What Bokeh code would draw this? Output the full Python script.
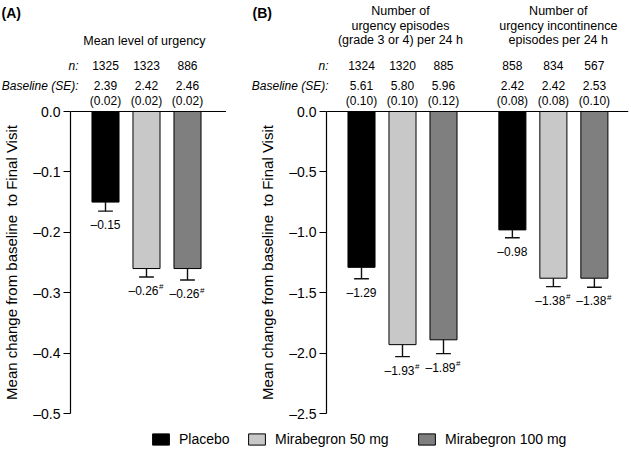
from bokeh.plotting import figure
from bokeh.models import (Range1d, FixedTicker, CustomJSTickFormatter,
                          ColumnDataSource, Legend, LegendItem, Span)
from bokeh.layouts import column, row
from bokeh.core.properties import value
from bokeh.embed import file_html
from bokeh.resources import INLINE

# ---------------- data ----------------
treatments = ["Placebo", "Mirabegron 50 mg", "Mirabegron 100 mg"]

a_title = ["Mean level of urgency"]
a_n = [1325, 1323, 886]
a_base = [2.39, 2.42, 2.46]
a_base_se = [0.02, 0.02, 0.02]
a_change = [-0.15, -0.26, -0.26]
a_err = [0.015, 0.014, 0.019]
a_sig = [False, True, True]

b_titles = [["Number of", "urgency episodes", "(grade 3 or 4) per 24 h"],
            ["Number of", "urgency incontinence", "episodes per 24 h"]]
b_n = [[1324, 1320, 885], [858, 834, 567]]
b_base = [[5.61, 5.80, 5.96], [2.42, 2.42, 2.53]]
b_base_se = [[0.10, 0.10, 0.12], [0.08, 0.08, 0.10]]
b_change = [[-1.29, -1.93, -1.89], [-0.98, -1.38, -1.38]]
b_err = [[0.094, 0.099, 0.114], [0.065, 0.070, 0.075]]
b_sig = [[False, True, True], [False, True, True]]

a_ticks = [0.0, -0.1, -0.2, -0.3, -0.4, -0.5]
b_ticks = [0.0, -0.5, -1.0, -1.5, -2.0, -2.5]
y_label = "Mean change from baseline\u00a0 to Final Visit"
row_labels = ["n:", "Baseline (SE):"]

# ---------------- style / layout ----------------
FONT = "Liberation Sans"
COLORS = ["#000000", "#c8c8c8", "#7f7f7f"]
PX = 41.0            # pixels per bar slot
GROUP_STEP = 3.68    # slot distance between groups
BAR_W = 0.66
CAP_HALF = 0.18
HEAD_H = 94          # header strip height
PAD = 17             # frame pixels above the zero line and below the axis end
AXIS_PX = 302        # pixels of the y axis
PANEL_H = PAD + AXIS_PX + PAD
LEG_H = 452 - HEAD_H - PANEL_H
LEG_X = [150, 246, 416]
DASH = "\u2013"


def fmt(v):
    return (DASH if v < 0 else "") + f"{abs(v):.2f}"


def header(width, left, first_gap, titles, ns, bases, letter, letter_x,
           rowlab_x, title_y):
    x0 = -first_gap / PX - left / PX
    x1 = -first_gap / PX + (width - left) / PX
    h = figure(width=width, height=HEAD_H, x_range=Range1d(x0, x1),
               y_range=Range1d(HEAD_H, 0), output_backend="svg",
               toolbar_location=None, x_axis_location=None,
               y_axis_location=None, min_border=0)
    h.outline_line_color = None
    h.grid.visible = False
    hx, hn, hb = [], [], []
    for g in range(len(ns)):
        for i in range(len(ns[g])):
            hx.append(i + g * GROUP_STEP)
            hn.append(str(ns[g][i]))
            hb.append(f"{bases[g][i]:.2f}")
    m = len(hx)
    h.text(x=hx * 2, y=[65] * m + [85] * m, text=hn + hb,
           text_align="center", text_baseline="middle",
           text_font=value(FONT), text_font_size=value("12px"),
           text_color="black")
    h.text(x=[rowlab_x] * 2, y=[65, 85], text=row_labels,
           text_align="right", text_baseline="middle",
           text_font=value(FONT), text_font_size=value("12px"),
           text_font_style="italic", text_color="black")
    tx, ty, tt = [], [], []
    for g, lines in enumerate(titles):
        for j, line in enumerate(lines):
            tx.append(1 + g * GROUP_STEP + (0.12 if g == 1 else -0.05))
            ty.append(title_y[j])
            tt.append(line)
    h.text(x=tx, y=ty, text=tt, text_align="center", text_baseline="middle",
           text_font=value(FONT), text_font_size=value("12.5px"),
           text_color="black")
    h.text(x=[letter_x], y=[12], text=[letter], text_align="left",
           text_baseline="middle", text_font=value(FONT),
           text_font_size=value("14px"), text_font_style="bold",
           text_color="black")
    return h


def panel(width, left, right, first_gap, ymin, ticks, bses, changes, errs,
          sigs, standoff):
    frame_w = width - left - right
    x0 = -first_gap / PX
    x1 = x0 + frame_w / PX
    k = (0 - ymin) / AXIS_PX
    p = figure(width=width, height=PANEL_H, x_range=Range1d(x0, x1),
               y_range=Range1d(ymin - PAD * k, PAD * k), output_backend="svg",
               toolbar_location=None, x_axis_location=None, min_border=0,
               min_border_left=left, min_border_right=right,
               min_border_top=0, min_border_bottom=0)
    p.outline_line_color = None
    p.grid.visible = False

    ya = p.yaxis[0]
    ya.bounds = (ymin, 0)
    ya.ticker = FixedTicker(ticks=ticks)
    ya.formatter = CustomJSTickFormatter(
        code="return (tick < -1e-9 ? '\u2013' : '') + Math.abs(tick).toFixed(1);")
    ya.minor_tick_line_color = None
    ya.major_tick_out = 7
    ya.major_tick_in = 0
    ya.major_tick_line_width = 1.2
    ya.axis_line_width = 1.2
    ya.axis_line_color = "black"
    ya.major_tick_line_color = "black"
    ya.major_label_standoff = 3
    ya.major_label_text_font = FONT
    ya.major_label_text_font_size = "14px"
    ya.major_label_text_color = "black"
    ya.axis_label = y_label
    ya.axis_label_text_font = FONT
    ya.axis_label_text_font_size = "15px"
    ya.axis_label_text_font_style = "normal"
    ya.axis_label_text_color = "black"
    ya.axis_label_standoff = standoff

    xs, tops, lows, cols, labs, xo, ses = [], [], [], [], [], [], []
    sx, sy = [], []
    for g in range(len(changes)):
        for i in range(len(changes[g])):
            x = i + g * GROUP_STEP
            xs.append(x)
            tops.append(changes[g][i])
            low = changes[g][i] - errs[g][i]
            lows.append(low)
            cols.append(COLORS[i])
            labs.append(fmt(changes[g][i]))
            ses.append(f"({bses[g][i]:.2f})")
            xo.append(-3 if sigs[g][i] else 0)
            if sigs[g][i]:
                sx.append(x)
                sy.append(low)
    src = ColumnDataSource(dict(x=xs, change=tops, low=lows, color=cols,
                                lab=labs, xo=xo, se=ses,
                                sey=[11 * k] * len(xs),
                                cl=[x - CAP_HALF for x in xs],
                                cr=[x + CAP_HALF for x in xs]))
    # baseline SE row (sits just above the zero line)
    p.text(x="x", y="sey", text="se", text_align="center",
           text_baseline="middle", text_font=value(FONT),
           text_font_size=value("12px"), text_color="black", source=src)
    p.vbar(x="x", width=BAR_W, top=0, bottom="change", fill_color="color",
           line_color="black", line_width=1, source=src)
    p.add_layout(Span(location=0, dimension="width", line_color="black",
                      line_width=1.2))
    p.segment(x0="x", y0="change", x1="x", y1="low", line_color="#111111",
              line_width=1.4, source=src)
    p.segment(x0="cl", y0="low", x1="cr", y1="low", line_color="#111111",
              line_width=1.4, source=src)
    p.text(x="x", y="low", text="lab", x_offset="xo", y_offset=14,
           text_align="center", text_baseline="middle",
           text_font=value(FONT), text_font_size=value("12px"),
           text_color="black", source=src)
    p.text(x=sx, y=sy, text=["#"] * len(sx), x_offset=12.5, y_offset=10,
           text_align="left", text_baseline="middle",
           text_font=value(FONT), text_font_size=value("8px"),
           text_color="black")
    return p


A_W, A_L, A_R, A_GAP = 226, 70, 0, 35
B_W, B_L, B_R, B_GAP = 405, 100, 3, 35

hA = header(A_W, A_L, A_GAP, [a_title], [a_n], [a_base],
            "(A)", -104 / PX, -27 / PX, [40])
hB = header(B_W, B_L, B_GAP, b_titles, b_n, b_base,
            "(B)", -109 / PX, -33 / PX, [10, 25, 39])
pA = panel(A_W, A_L, A_R, A_GAP, -0.5, a_ticks, [a_base_se], [a_change],
           [a_err], [a_sig], 10)
pB = panel(B_W, B_L, B_R, B_GAP, -2.5, b_ticks, b_base_se, b_change, b_err,
           b_sig, 10)

# legend strip
lf = figure(width=631, height=LEG_H, x_range=Range1d(0, 1),
            y_range=Range1d(0, 1), toolbar_location=None,
            output_backend="svg", min_border=0)
lf.axis.visible = False
lf.grid.visible = False
lf.outline_line_color = None
for t, c, lx in zip(treatments, COLORS, LEG_X):
    r = lf.vbar(x=[5], top=[1], width=0.1, fill_color=c, line_color="black",
                line_width=1)
    leg = Legend(items=[LegendItem(label=t, renderers=[r])],
                 location=(lx, 5), glyph_width=21, glyph_height=14,
                 label_standoff=8, padding=0, margin=0,
                 border_line_color=None, background_fill_alpha=0,
                 label_text_font=FONT, label_text_font_size="14px",
                 label_height=14, label_text_color="black")
    lf.add_layout(leg)

layout = column(row(hA, hB), row(pA, pB), lf)
open("out.html", "w").write(file_html(layout, INLINE))
